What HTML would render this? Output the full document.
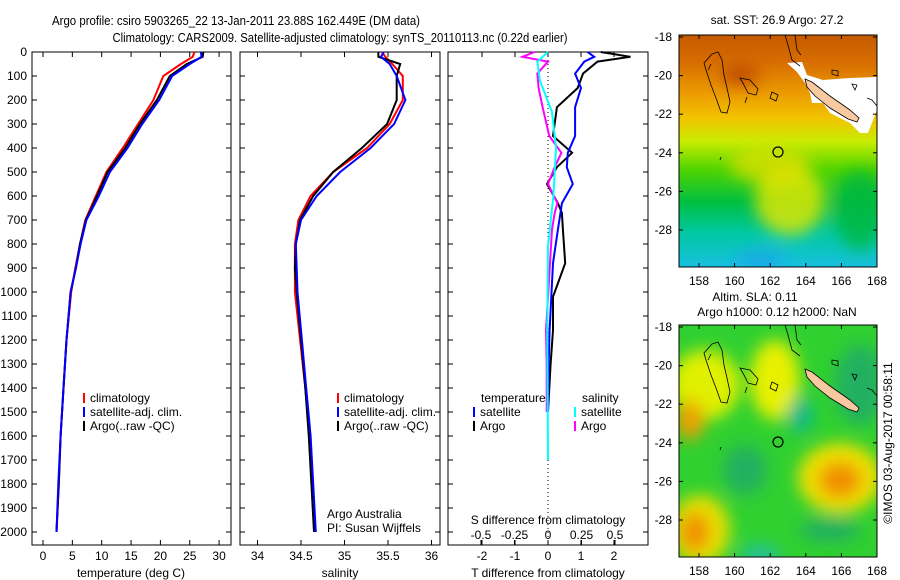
<!DOCTYPE html>
<html><head><meta charset="utf-8"><style>
body{margin:0;background:#fff;}
svg{display:block;font-family:"Liberation Sans",sans-serif;}
</style></head><body>
<svg id="fig" width="900" height="580" viewBox="0 0 900 580">
<defs>
<linearGradient id="sstg" x1="0" y1="0" x2="0" y2="1">
<stop offset="0" stop-color="#c45a00"/><stop offset="0.12" stop-color="#d86e00"/><stop offset="0.25" stop-color="#eb9a00"/>
<stop offset="0.36" stop-color="#f2c400"/><stop offset="0.46" stop-color="#c8ec00"/><stop offset="0.58" stop-color="#50d400"/>
<stop offset="0.72" stop-color="#00bf40"/><stop offset="0.85" stop-color="#00c8a0"/><stop offset="1" stop-color="#18c0e0"/>
</linearGradient>
<filter id="blur8"><feGaussianBlur stdDeviation="8"/></filter>
<clipPath id="c1"><rect x="679" y="35" width="198" height="232"/></clipPath>
<clipPath id="c2"><rect x="679" y="325" width="198" height="232"/></clipPath>
</defs>
<text x="236" y="25" font-size="13" text-anchor="middle" textLength="368" lengthAdjust="spacingAndGlyphs">Argo profile: csiro 5903265_22 13-Jan-2011 23.88S 162.449E (DM data)</text>
<text x="340" y="42" font-size="13" text-anchor="middle" textLength="455" lengthAdjust="spacingAndGlyphs">Climatology: CARS2009. Satellite-adjusted climatology: synTS_20110113.nc (0.22d earlier)</text>

<g id="maps">
<g clip-path="url(#c1)">
<rect x="679" y="35" width="198" height="232" fill="url(#sstg)"/>
<g filter="url(#blur8)">
<ellipse cx="790" cy="200" rx="35" ry="35" fill="#e8e800" opacity="0.8"/>
<ellipse cx="770" cy="165" rx="40" ry="18" fill="#e8e000" opacity="0.7"/>
<ellipse cx="740" cy="75" rx="20" ry="10" fill="#b84000" opacity="0.8"/>
<ellipse cx="860" cy="210" rx="25" ry="40" fill="#00b840" opacity="0.8"/>
<ellipse cx="760" cy="260" rx="25" ry="10" fill="#1aa0f0" opacity="0.7"/>
</g>
<polygon points="787,63 802,62 807,75 823,80 850,78 877,77 877,110 868,133 860,133 850,123 830,113 823,103 812,103 810,93 805,83 797,72" fill="#fff"/>
</g>
<g clip-path="url(#c2)">
<rect x="679" y="325" width="198" height="232" fill="#30d030"/>
<g filter="url(#blur8)">
<ellipse cx="705" cy="385" rx="35" ry="35" fill="#e0f000"/>
<ellipse cx="775" cy="380" rx="25" ry="40" fill="#e8f000"/>
<ellipse cx="690" cy="420" rx="14" ry="20" fill="#f0a000"/>
<ellipse cx="840" cy="478" rx="42" ry="35" fill="#f0e000"/>
<ellipse cx="840" cy="480" rx="22" ry="18" fill="#f09000"/>
<ellipse cx="700" cy="530" rx="30" ry="35" fill="#e8e000"/>
<ellipse cx="695" cy="532" rx="15" ry="20" fill="#f09000"/>
<ellipse cx="800" cy="415" rx="12" ry="18" fill="#10b890"/>
<ellipse cx="745" cy="470" rx="22" ry="25" fill="#20b060"/>
<ellipse cx="760" cy="555" rx="20" ry="10" fill="#20c0a0"/>
<ellipse cx="830" cy="530" rx="30" ry="12" fill="#20b060"/>
<ellipse cx="860" cy="385" rx="25" ry="40" fill="#20b060"/>
</g>
</g>
</g>
<g id="plots"></g>
</svg>
<script>
// ---- data ----
const depthsT = [0,20,50,100,200,300,400,500,600,700,800,900,1000,1200,1400,1600,1800,2000];
const tempArgo = [27.3,27.2,24.5,21.6,19.4,16.5,14.0,11.0,9.2,7.3,6.3,5.6,4.7,4.0,3.5,3.0,2.7,2.3];
const tempClim = [25.8,25.5,23.5,20.5,18.8,16.2,13.6,10.8,9.0,7.2,6.3,5.5,4.8,4.0,3.5,3.0,2.7,2.3];
const tempSat  = [26.9,27.0,25.0,22.0,19.8,16.9,14.4,11.4,9.5,7.4,6.4,5.6,4.7,4.0,3.5,3.0,2.6,2.3];
const salArgo = [35.39,35.39,35.64,35.60,35.60,35.49,35.20,34.87,34.64,34.49,34.44,34.43,34.45,34.50,34.55,34.59,34.62,34.65];
const salClim = [35.43,35.47,35.55,35.67,35.67,35.52,35.26,34.87,34.61,34.47,34.43,34.43,34.43,34.49,34.55,34.60,34.63,34.66];
const salSat  = [35.45,35.42,35.52,35.60,35.70,35.57,35.30,34.95,34.68,34.50,34.44,34.45,34.46,34.51,34.56,34.61,34.64,34.67];
const diffDepths = [0,20,40,90,150,230,350,420,480,550,630,670,740,880,1020,1160,1300,1500];
const dTArgo = [1.6,2.5,1.5,1.06,0.9,0.27,0.15,0.73,0.27,-0.03,0.3,0.42,0.45,0.52,0.15,0.15,0.08,0.0];
const dTSat  = [1.2,1.4,1.1,0.82,1.0,0.82,0.82,0.6,0.57,0.75,0.42,0.38,0.3,0.15,0.1,0.05,0.02,0.0];
const dSArgo = [-0.1,-0.19,0.0,-0.08,-0.07,-0.04,0.01,0.1,0.05,0.0,0.07,0.05,0.03,0.015,0.0,-0.015,-0.01,-0.01];
const dSSatDepths = [0,40,120,250,400,600,810,1000,1160,1400,1700];
const dSSat = [0,-0.08,-0.06,0.03,0.06,0.04,0.0,-0.003,-0.005,-0.003,0.0];
const depthTicks = [0,100,200,300,400,500,600,700,800,900,1000,1100,1200,1300,1400,1500,1600,1700,1800,1900,2000];
const tempTicks = [0,5,10,15,20,25,30];
const salTicks = [34,34.5,35,35.5,36];
const salTickLabels = ["34","34.5","35","35.5","36"];
const dTTicks = [-2,-1,0,1,2];
const dSTicks = [-0.5,-0.25,0,0.25,0.5];
const dSTickLabels = ["-0.5","-0.25","0","0.25","0.5"];
const lonTicks = [158,160,162,164,166,168];
const latTicks = [-18,-20,-22,-24,-26,-28];

const NS="http://www.w3.org/2000/svg";
const root=document.getElementById('plots');
function mk(tag,attrs,parent){const e=document.createElementNS(NS,tag);for(const k in attrs)e.setAttribute(k,attrs[k]);(parent||root).appendChild(e);return e;}
function txt(x,y,s,size,anchor,parent){const t=mk('text',{x:x,y:y,'font-size':size,'text-anchor':anchor||'start'},parent);t.textContent=s;return t;}
const yD = d => 52 + 0.24*d;
const xT = t => 43 + 5.87*t;
const xS = s => 257.5 + 87*(s-34);
const xdT = v => 548 + 33*v;
const xdS = v => 548 + 134*v;

function line(xs,ds,fx,color,name,w){
  const p=xs.map((v,i)=>fx(v).toFixed(1)+','+yD(ds[i]).toFixed(1)).join(' ');
  const el=mk('polyline',{points:p,fill:'none',stroke:color,'stroke-width':w||2});
  
  
}
function frame(x,w,name){
  const r=mk('rect',{x:x,y:52,width:w,height:493,fill:'none',stroke:'#000','stroke-width':1});
  
  
}
depthTicks.forEach(d=>{
  const t=txt(27,yD(d)+4,String(d),12,'end');
  
  
  [32,240,448].forEach(x=>{mk('line',{x1:x,y1:yD(d),x2:x+5,y2:yD(d),stroke:'#000'});});
  [231,440,648].forEach(x=>mk('line',{x1:x,y1:yD(d),x2:x-5,y2:yD(d),stroke:'#000'}));
});
frame(32,199,'temperature-panel');frame(240,200,'salinity-panel');frame(448,200,'difference-panel');
tempTicks.forEach(t=>{mk('line',{x1:xT(t),y1:545,x2:xT(t),y2:540,stroke:'#000'});mk('line',{x1:xT(t),y1:52,x2:xT(t),y2:57,stroke:'#000'});
  const l=txt(xT(t),560,String(t),12,'middle');});
salTicks.forEach((s,i)=>{mk('line',{x1:xS(s),y1:545,x2:xS(s),y2:540,stroke:'#000'});mk('line',{x1:xS(s),y1:52,x2:xS(s),y2:57,stroke:'#000'});
  const l=txt(xS(s),560,salTickLabels[i],12,'middle');});
dTTicks.forEach(v=>{mk('line',{x1:xdT(v),y1:545,x2:xdT(v),y2:540,stroke:'#000'});mk('line',{x1:xdT(v),y1:52,x2:xdT(v),y2:57,stroke:'#000'});
  const l=txt(xdT(v),560,String(v),12,'middle');});
dSTicks.forEach((v,i)=>{mk('line',{x1:xdS(v),y1:545,x2:xdS(v),y2:540,stroke:'#000'});
  const l=txt(xdS(v),539,dSTickLabels[i],12,'middle');});
let a=txt(131,577,'temperature (deg C)',12,'middle');
a=txt(340,577,'salinity',12,'middle');
a=txt(548,577,'T difference from climatology',12,'middle');
a=txt(548,524,'S difference from climatology',12,'middle');
const z=mk('line',{x1:548,y1:52,x2:548,y2:545,stroke:'#000','stroke-dasharray':'1,3'});

line(tempClim,depthsT,xT,'#f00','temp-climatology-line');
line(tempArgo,depthsT,xT,'#000','temp-argo-line');
line(tempSat,depthsT,xT,'#00f','temp-satellite-line');
line(salClim,depthsT,xS,'#f00','sal-climatology-line');
line(salArgo,depthsT,xS,'#000','sal-argo-line');
line(salSat,depthsT,xS,'#00f','sal-satellite-line');
line(dTArgo,diffDepths,xdT,'#000','tdiff-argo-line');
line(dTSat,diffDepths,xdT,'#00f','tdiff-satellite-line');
line(dSArgo,diffDepths,xdS,'#f0f','sdiff-argo-line');
line(dSSat,dSSatDepths,xdS,'#0ff','sdiff-satellite-line');
function leg(x,y,color,label,name){mk('rect',{x:x,y:y-9,width:2,height:10,fill:color});const t=txt(x+7,y,label,12);}
[[83,'temp'],[337,'sal']].forEach(([x,p])=>{
  leg(x,402,'#f00','climatology',p+'-legend-climatology');
  leg(x,416,'#00f','satellite-adj. clim.',p+'-legend-satellite');
  leg(x,430,'#000','Argo(..raw -QC)',p+'-legend-argo');
});
a=txt(481,402,'temperature',12);
a=txt(582,402,'salinity',12);
leg(473,416,'#00f','satellite','legend-t-satellite');leg(473,430,'#000','Argo','legend-t-argo');
leg(574,416,'#0ff','satellite','legend-s-satellite');leg(574,430,'#f0f','Argo','legend-s-argo');
a=txt(327,518,'Argo Australia',12);
a=txt(327,532,'PI: Susan Wijffels',12);

const mx = lon => 699 + 17.8*(lon-158);
function mapAxes(y0,name){
  const my = lat => y0+2 + 19.3*(-18-lat);
  const r=mk('rect',{x:679,y:y0,width:198,height:232,fill:'none',stroke:'#000'});
  
  lonTicks.forEach(l=>{mk('line',{x1:mx(l),y1:y0,x2:mx(l),y2:y0+4,stroke:'#000'});mk('line',{x1:mx(l),y1:y0+232,x2:mx(l),y2:y0+228,stroke:'#000'});
    const t=txt(mx(l),y0+250,String(l),12,'middle');});
  latTicks.forEach(l=>{mk('line',{x1:679,y1:my(l),x2:683,y2:my(l),stroke:'#000'});mk('line',{x1:877,y1:my(l),x2:873,y2:my(l),stroke:'#000'});
    const t=txt(672,my(l)+4,String(l),12,'end');});
  const g=mk('g',{transform:'translate(0,'+(y0-35)+')',fill:'none',stroke:'#000','stroke-width':0.8});
  
  mk('path',{d:'M712,54 L718,52 L722,60 L724,75 L727,88 L730,102 L727,113 L721,112 L716,98 L711,85 L706,70 L704,63 Z M708,70 L711,64 M720,160 L721,157'},g);
  mk('path',{d:'M740,78 L750,80 L758,89 L756,95 L748,93 L744,85 Z M747,97 L745,103 M772,92 L778,95 L776,101 L770,98 Z'},g);
  mk('path',{d:'M785,35 L788,45 L792,60 L800,66 M795,35 L797,50 L801,55 M832,70 L838,71 L838,76 L832,74 Z M852,84 L857,85 L855,90 Z M867,98 L872,100 L877,106'},g);
  mk('path',{d:'M805,79 L812,82 L830,96 L850,110 L859,118 L857,122 L848,119 L830,108 L815,96 L807,87 Z',fill:'#f8c8a0',stroke:'#000'},g);
  mk('circle',{cx:778,cy:152,r:5,fill:'none',stroke:'#000','stroke-width':1.2},g);
}
mapAxes(35,'sst-map');mapAxes(325,'sla-map');
a=txt(777,24,'sat. SST: 26.9 Argo: 27.2',12,'middle');
a=txt(755,301,'Altim. SLA: 0.11',12,'middle');
a=txt(777,316,'Argo h1000: 0.12 h2000: NaN',12,'middle');
a=txt(0,0,'©IMOS 03-Aug-2017 00:58:11',12,'middle');a.setAttribute('transform','translate(892,443) rotate(-90)');

</script>
</body></html>
